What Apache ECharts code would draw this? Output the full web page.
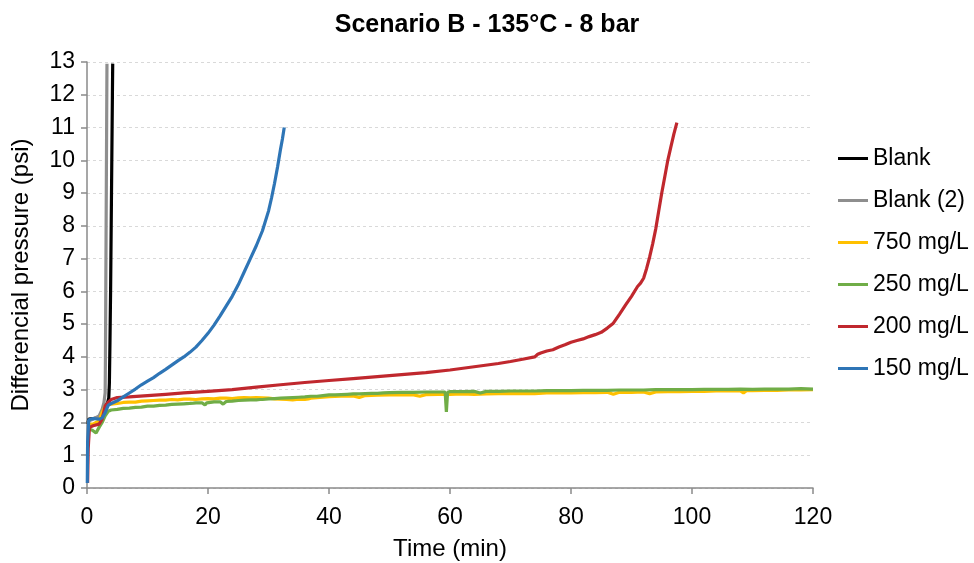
<!DOCTYPE html>
<html>
<head>
<meta charset="utf-8">
<script src="https://cdn.jsdelivr.net/npm/echarts@6/dist/echarts.min.js"></script>
<style>
html,body{margin:0;padding:0;background:#fff;}
#chart{width:974px;height:563px;}
</style>
</head>
<body>
<div id="chart"></div>
<script>
// ---- Data (time in min, differential pressure in psi) ----
var seriesNames = ["Blank", "Blank (2)", "750 mg/L", "250 mg/L", "200 mg/L", "150 mg/L"];

var blankT = [0.1, 0.3, 1, 2, 2.5, 3, 3.4, 3.6, 3.7, 3.8, 3.9, 4.0, 4.1, 4.2, 4.25];
var blankV = [1.95, 2.1, 2.12, 2.15, 2.3, 2.5, 2.6, 2.75, 3.2, 4.5, 6.0, 8.0, 10.0, 12.0, 12.95];

var blank2T = [0.1, 0.3, 1, 2, 2.5, 2.8, 3.0, 3.05, 3.1, 3.15, 3.2, 3.25, 3.3];
var blank2V = [1.95, 2.05, 2.1, 2.2, 2.4, 2.6, 2.9, 4.0, 5.8, 7.6, 9.4, 11.2, 12.95];

var y750T = [0.2, 0.5, 1, 1.5, 2, 2.5, 3, 3.5, 4, 5, 6, 7, 8, 9, 10, 11, 12, 13, 14, 15, 16, 17, 18, 19, 20, 21, 22, 23, 24, 25, 26, 27, 28, 29, 30, 31, 32, 33, 34, 35, 36, 36.3, 36.6, 37, 38, 39, 40, 42, 44, 45, 46, 48, 50, 52, 54, 55, 56, 58, 60, 62, 64, 66, 68, 70, 72, 74, 76, 78, 80, 82, 84, 86, 87, 88, 90, 92, 93, 94, 96, 98, 100, 102, 104, 106, 108, 108.5, 109, 110, 112, 114, 116, 118, 120];
var y750V = [1.95, 1.9, 1.95, 2.0, 2.05, 2.3, 2.5, 2.55, 2.56, 2.58, 2.61, 2.62, 2.62, 2.65, 2.66, 2.67, 2.68, 2.68, 2.7, 2.69, 2.71, 2.71, 2.7, 2.72, 2.73, 2.72, 2.74, 2.74, 2.73, 2.75, 2.76, 2.75, 2.76, 2.75, 2.74, 2.72, 2.71, 2.7, 2.69, 2.71, 2.7, 2.64, 2.72, 2.74, 2.76, 2.77, 2.79, 2.8, 2.81, 2.76, 2.82, 2.83, 2.84, 2.85, 2.84, 2.8, 2.85, 2.86, 2.86, 2.87, 2.86, 2.87, 2.88, 2.88, 2.89, 2.88, 2.9, 2.9, 2.9, 2.91, 2.91, 2.92, 2.86, 2.92, 2.92, 2.93, 2.88, 2.93, 2.94, 2.94, 2.95, 2.95, 2.96, 2.96, 2.96, 2.9, 2.97, 2.97, 2.98, 2.98, 2.99, 2.99, 3.0];

var y250T = [0.2, 0.5, 1, 1.5, 2, 2.5, 3, 3.5, 4, 5, 6, 7, 8, 9, 10, 11, 12, 13, 14, 15, 16, 17, 17.3, 17.6, 18, 19, 19.5, 19.8, 20, 21, 22, 22.5, 23, 24, 25, 26, 27, 28, 28.3, 28.6, 29, 30, 31, 32, 33, 34, 35, 36, 37, 38, 39, 40, 41, 42, 43, 44, 45, 46, 47, 48, 49, 50, 52, 54, 56, 58, 59.2, 59.4, 59.6, 60, 62, 64, 65, 66, 68, 70, 72, 74, 76, 78, 80, 82, 84, 86, 88, 90, 92, 94, 96, 98, 100, 102, 104, 106, 108, 110, 112, 114, 116, 118, 120];
var y250V = [1.82, 1.8, 1.75, 1.68, 1.85, 2.0, 2.2, 2.34, 2.38, 2.4, 2.43, 2.44, 2.46, 2.47, 2.5, 2.5, 2.52, 2.53, 2.55, 2.56, 2.57, 2.58, 2.52, 2.59, 2.6, 2.6, 2.53, 2.6, 2.62, 2.63, 2.63, 2.56, 2.64, 2.65, 2.67, 2.68, 2.69, 2.69, 2.64, 2.7, 2.7, 2.72, 2.73, 2.74, 2.75, 2.76, 2.77, 2.78, 2.8, 2.8, 2.82, 2.84, 2.84, 2.85, 2.86, 2.87, 2.87, 2.88, 2.89, 2.89, 2.9, 2.91, 2.92, 2.92, 2.93, 2.93, 2.93, 2.32, 2.92, 2.94, 2.94, 2.95, 2.9, 2.95, 2.95, 2.96, 2.96, 2.96, 2.97, 2.97, 2.97, 2.98, 2.98, 2.98, 2.99, 2.99, 2.99, 3.0, 3.0, 3.0, 3.0, 3.01, 3.01, 3.01, 3.02, 3.01, 3.02, 3.02, 3.02, 3.03, 3.02];

var y200T = [0.1, 0.2, 0.4, 1, 2, 2.5, 3, 3.5, 4, 5, 7, 10, 13, 16, 20, 24, 28, 32, 36, 40, 44, 48, 52, 56, 60, 64, 68, 70, 72, 74, 74.5, 75, 76, 77, 78, 79, 80, 81, 82, 83, 84, 85, 86, 87, 88, 89, 90, 91, 91.5, 92, 92.5, 93, 93.5, 94, 94.5, 95, 95.5, 96, 96.5, 97, 97.5];
var y200V = [0.15, 1.2, 1.85, 1.9, 1.95, 2.1, 2.5, 2.62, 2.7, 2.76, 2.78, 2.82, 2.86, 2.9, 2.95, 3.0, 3.08, 3.15, 3.22, 3.28, 3.34, 3.4, 3.46, 3.52, 3.6, 3.7, 3.8, 3.86, 3.93, 4.0, 4.08, 4.12, 4.18, 4.22, 4.3, 4.37, 4.45, 4.5, 4.55, 4.62, 4.68, 4.75, 4.88, 5.03, 5.3, 5.58, 5.85, 6.15, 6.25, 6.4, 6.7, 7.05, 7.45, 7.9, 8.45, 9.0, 9.5, 10.0, 10.4, 10.8, 11.15];

var y150T = [0.05, 0.1, 0.3, 1, 2, 2.5, 3, 3.5, 4, 5, 6, 7, 8, 9, 10, 11, 12, 13, 14, 15, 16, 17, 18, 19, 20, 21, 22, 23, 24, 25, 26, 27, 28, 29, 30, 30.5, 31, 31.5, 32, 32.3, 32.6];
var y150V = [0.15, 1.4, 2.08, 2.12, 2.1, 2.14, 2.3, 2.52, 2.58, 2.66, 2.78, 2.9, 3.02, 3.15, 3.26, 3.37, 3.5, 3.62, 3.75, 3.88, 4.0, 4.14, 4.3, 4.5, 4.72, 4.97, 5.25, 5.55, 5.85, 6.2, 6.6, 7.0, 7.4, 7.85, 8.45, 8.85, 9.3, 9.8, 10.35, 10.65, 11.0];

var xTicks = [0, 20, 40, 60, 80, 100, 120];
var yTicks = [0, 1, 2, 3, 4, 5, 6, 7, 8, 9, 10, 11, 12, 13];

var colors = ["#000000", "#8e8e8e", "#ffc000", "#70ad47", "#c0282e", "#2e75b6"];

function pairs(t, v) {
  var out = [];
  for (var i = 0; i < t.length; i++) out.push([t[i], v[i]]);
  return out;
}
var allData = [
  pairs(blankT, blankV),
  pairs(blank2T, blank2V),
  pairs(y750T, y750V),
  pairs(y250T, y250V),
  pairs(y200T, y200V),
  pairs(y150T, y150V)
];

var font = "'Liberation Sans', Arial, sans-serif";
var axisColor = "#8a8a8a";

var chart = echarts.init(document.getElementById('chart'), null, {renderer: 'canvas'});
chart.setOption({
  animation: false,
  backgroundColor: '#ffffff',
  title: {
    text: 'Scenario B - 135°C - 8 bar',
    left: 'center',
    top: 8,
    textStyle: {fontFamily: font, fontSize: 25, fontWeight: 'bold', color: '#000'}
  },
  legend: {
    data: seriesNames,
    orient: 'vertical',
    left: 838,
    top: 147,
    padding: 0,
    itemWidth: 30,
    itemHeight: 3,
    itemGap: 19,
    icon: 'rect',
    textStyle: {fontFamily: font, fontSize: 23, color: '#000'}
  },
  grid: {left: 87, right: 161, top: 62, bottom: 75, containLabel: false, outerBoundsMode: 'none'},
  xAxis: {
    type: 'value',
    min: xTicks[0],
    max: xTicks[xTicks.length - 1],
    interval: xTicks[1] - xTicks[0],
    name: 'Time (min)',
    nameLocation: 'middle',
    nameGap: 49,
    nameTextStyle: {fontFamily: font, fontSize: 24, color: '#000'},
    axisLine: {show: true, lineStyle: {color: axisColor, width: 1.5}},
    axisTick: {show: true, length: 6, lineStyle: {color: axisColor, width: 1.5}},
    axisLabel: {fontFamily: font, fontSize: 23, color: '#000', margin: 18},
    splitLine: {show: false}
  },
  yAxis: {
    type: 'value',
    min: yTicks[0],
    max: yTicks[yTicks.length - 1],
    interval: yTicks[1] - yTicks[0],
    name: 'Differencial pressure (psi)',
    nameLocation: 'middle',
    nameGap: 54,
    nameTextStyle: {fontFamily: font, fontSize: 24, color: '#000'},
    axisLine: {show: true, lineStyle: {color: axisColor, width: 1.5}},
    axisTick: {show: true, length: 6, lineStyle: {color: axisColor, width: 1.5}},
    axisLabel: {fontFamily: font, fontSize: 23, color: '#000', margin: 12},
    splitLine: {show: true, lineStyle: {color: '#d9d9d9', type: [3, 3], width: 1}}
  },
  series: seriesNames.map(function (name, i) {
    return {
      name: name,
      type: 'line',
      data: allData[i],
      showSymbol: false,
      symbol: 'none',
      color: colors[i],
      lineStyle: {color: colors[i], width: 3.2},
      z: 2 + i
    };
  })
});
</script>
</body>
</html>
